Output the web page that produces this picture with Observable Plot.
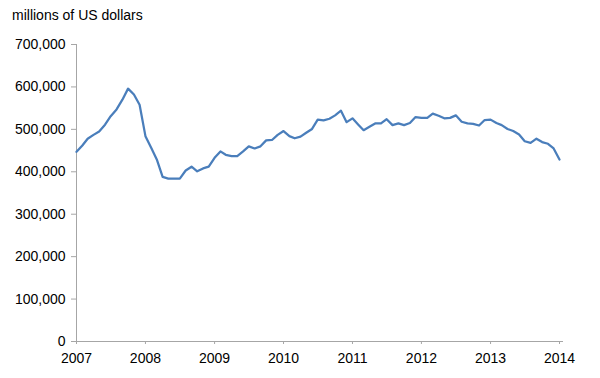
<!DOCTYPE html>
<html><head><meta charset="utf-8">
<script src="https://cdn.jsdelivr.net/npm/d3@7"></script>
<script src="https://cdn.jsdelivr.net/npm/@observablehq/plot@0.6"></script>
<style>
body{margin:0;background:#fff;font-family:"Liberation Sans",Arial,sans-serif;}
#wrap{position:relative;width:600px;height:378px;}
#title{position:absolute;left:12px;top:7px;font-size:14px;color:#000;line-height:16px;}
#chart{position:absolute;left:0;top:0;}
</style></head>
<body>
<div id="wrap"><div id="chart"></div><div id="title">millions of US dollars</div></div>
<script>
const startYear = 2007;
// monthly values, Jan 2007 .. Jan 2014 (millions of US dollars)
const values2007 = [447000, 462000, 478000, 487000, 495000, 511000, 531000, 547000, 570000, 596000, 582000, 558000];
const values2008 = [484000, 456000, 429000, 388000, 384000, 384000, 384000, 403000, 412000, 401000, 408000, 412000];
const values2009 = [433000, 448000, 440000, 437000, 437000, 448000, 460000, 455000, 460000, 474000, 475000, 487000];
const values2010 = [496000, 484000, 479000, 483000, 492000, 501000, 523000, 521000, 525000, 533000, 544000, 517000];
const values2011 = [526000, 511000, 498000, 506000, 514000, 514000, 524000, 510000, 514000, 510000, 515000, 529000];
const values2012 = [527000, 527000, 537000, 532000, 526000, 527000, 533000, 518000, 514000, 513000, 509000, 522000];
const values2013 = [523000, 515000, 510000, 501000, 496000, 488000, 472000, 468000, 478000, 470000, 466000, 455000];
const values2014 = [429000];
const values = [...values2007, ...values2008, ...values2009, ...values2010, ...values2011, ...values2012, ...values2013, ...values2014];
const yearTicks = [2007, 2008, 2009, 2010, 2011, 2012, 2013, 2014];
const yTicks = [0, 100000, 200000, 300000, 400000, 500000, 600000, 700000];

const data = values.map((v, i) => ({date: new Date(Date.UTC(startYear, i, 1)), value: v}));
const x0 = new Date(Date.UTC(yearTicks[0], 0, 1));
const x1 = new Date(Date.UTC(yearTicks[yearTicks.length - 1], 0, 1));
const axisColor = "#a6a6a6";

const chart = Plot.plot({
  width: 600,
  height: 378,
  marginTop: 44,
  marginBottom: 37,
  marginLeft: 76,
  marginRight: 41,
  style: {fontFamily: '"Liberation Sans", Arial, sans-serif', fontSize: "14px", color: "#000", background: "transparent"},
  x: {type: "utc", domain: [x0, x1]},
  y: {domain: [yTicks[0], yTicks[yTicks.length - 1]]},
  marks: [
    Plot.ruleX([x0], {y1: yTicks[0], y2: yTicks[yTicks.length - 1], stroke: axisColor}),
    Plot.ruleY([0], {stroke: axisColor, insetRight: -4}),
    Plot.axisY({ticks: yTicks, tickFormat: d3.format(","), tickSize: 5, tickPadding: 6, stroke: axisColor, fill: "#000", label: null}),
    Plot.axisX({ticks: yearTicks.map(y => new Date(Date.UTC(y, 0, 1))), tickFormat: d3.utcFormat("%Y"), tickSize: 3, tickPadding: 9, stroke: axisColor, fill: "#000", label: null}),
    Plot.line(data, {x: "date", y: "value", stroke: "#4a7ebb", strokeWidth: 2.25})
  ]
});
document.getElementById("chart").appendChild(chart);
</script>
</body></html>
